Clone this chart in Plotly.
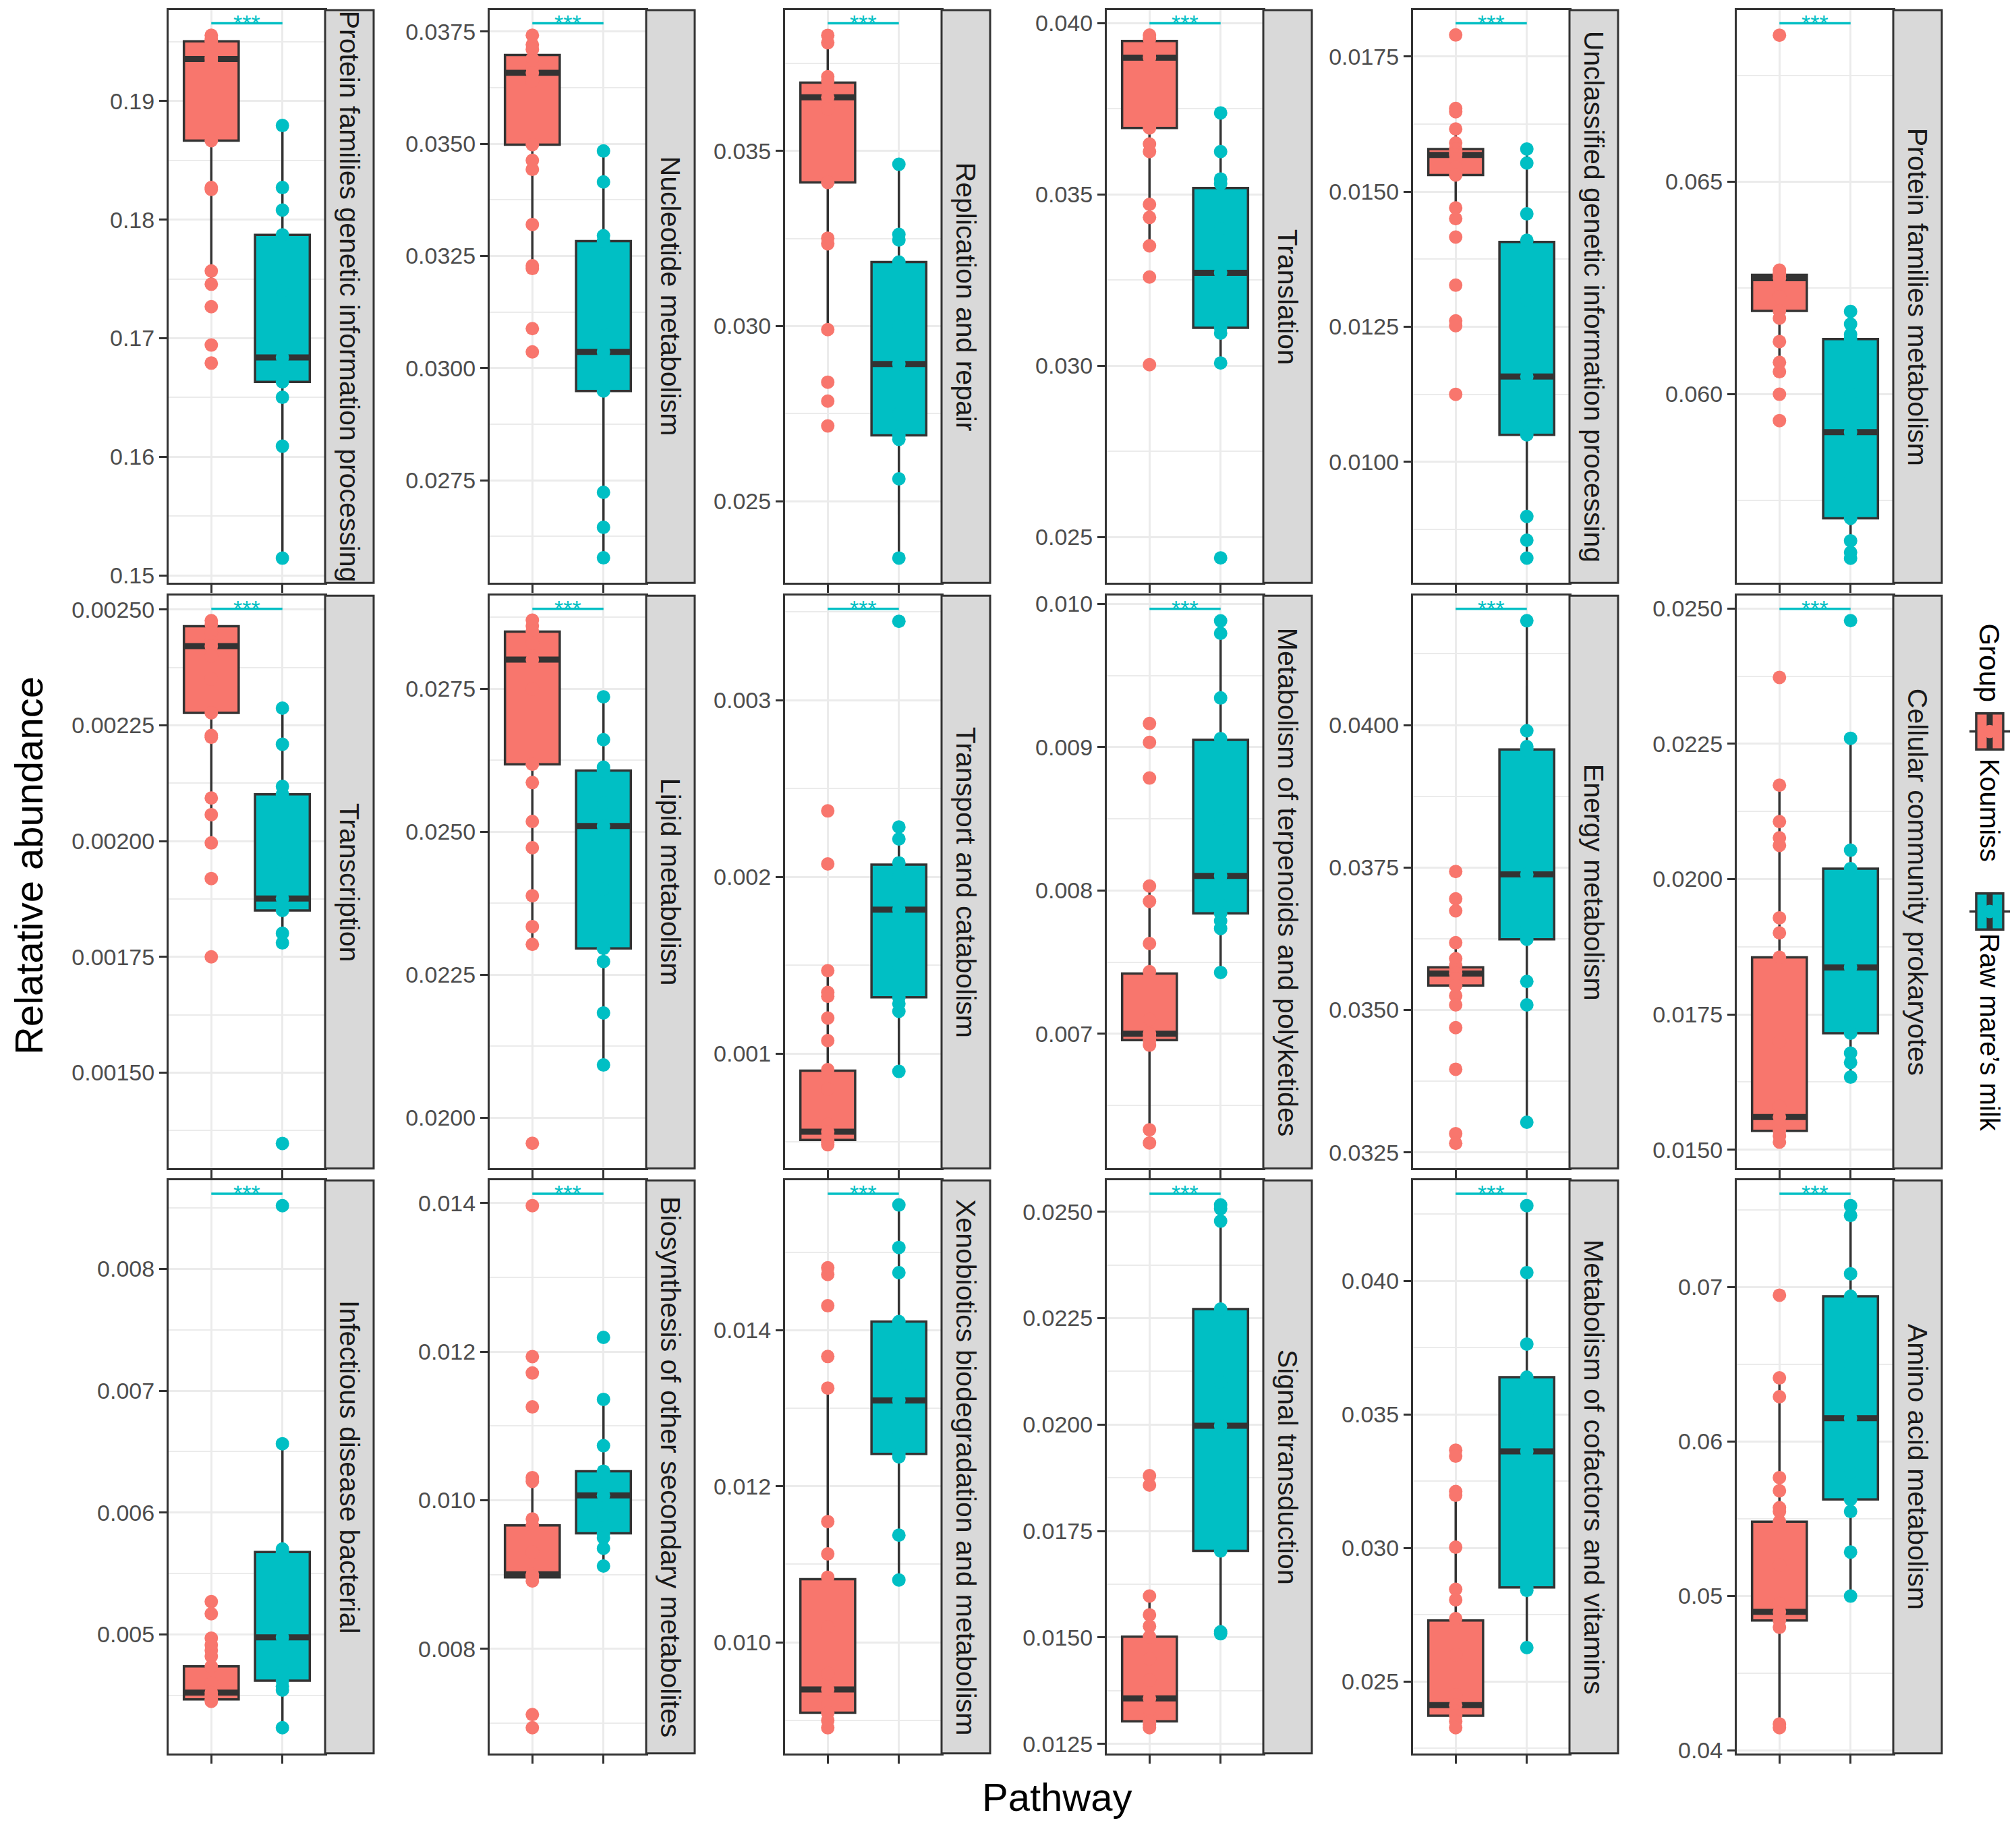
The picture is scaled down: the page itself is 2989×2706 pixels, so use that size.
import plotly.graph_objects as go

PAGE_W, PAGE_H = 2989, 2706
BODY_MARGIN = 8  # default html body margin; figure sized so the page fits exactly
W, H = PAGE_W - 2 * BODY_MARGIN, PAGE_H - 2 * BODY_MARGIN
FONT = "Liberation Sans, Arial, Helvetica, sans-serif"
KOUMISS_COLOR = "#F8766D"
RAW_COLOR = "#00BFC4"
DARK = "#333333"
GRID = "#EBEBEB"

# ---------------- data ----------------
pathways = [
    "Protein families genetic information processing", "Nucleotide metabolism",
    "Replication and repair", "Translation",
    "Unclassified genetic information processing", "Protein families metabolism",
    "Transcription", "Lipid metabolism", "Transport and catabolism",
    "Metabolism of terpenoids and polyketides", "Energy metabolism",
    "Cellular community prokaryotes", "Infectious disease bacterial",
    "Biosynthesis of other secondary metabolites",
    "Xenobiotics biodegradation and metabolism", "Signal transduction",
    "Metabolism of cofactors and vitamins", "Amino acid metabolism",
]
groups = ["Koumiss", "Raw mare\u2019s milk"]
significance = ["***"] * 18

# box statistics
koumiss_q1 = [0.18667, 0.03498, 0.03410, 0.03694, 0.01531, 0.06196, 0.002277, 0.02618, 0.000512,
              0.006955, 0.03543, 0.015347, 0.004467, 0.008962, 0.009099, 0.013030, 0.023718, 0.048402]
koumiss_median = [0.19355, 0.03658, 0.03653, 0.03899, 0.01568, 0.06273, 0.002421, 0.02801, 0.000559,
                  0.007000, 0.03564, 0.015604, 0.004522, 0.009003, 0.009398, 0.013569, 0.024112, 0.048962]
koumiss_q3 = [0.19504, 0.03698, 0.03695, 0.03948, 0.01579, 0.06281, 0.002464, 0.02850, 0.000904,
              0.007420, 0.03575, 0.018556, 0.004738, 0.009661, 0.010810, 0.015018, 0.027281, 0.054806]
koumiss_lower = [0.17456, 0.03222, 0.02990, 0.03350, 0.01470, 0.06075, 0.001996, 0.02303, 0.000485,
                 0.006330, 0.03509, 0.015140, 0.004451, 0.008912, 0.008906, 0.012880, 0.023267, 0.041462]
koumiss_upper = [0.19555, 0.03742, 0.03830, 0.03965, 0.01616, 0.06292, 0.002476, 0.02870, 0.001470,
                 0.008031, 0.03618, 0.021736, 0.004970, 0.010304, 0.013258, 0.015972, 0.031972, 0.064107]

raw_q1 = [0.16632, 0.02949, 0.02688, 0.03111, 0.01050, 0.05708, 0.001850, 0.02296, 0.001319,
          0.007840, 0.03624, 0.017153, 0.004621, 0.009555, 0.012415, 0.017032, 0.028521, 0.056242]
raw_median = [0.16838, 0.03036, 0.02892, 0.03271, 0.01158, 0.05911, 0.001876, 0.02510, 0.001815,
              0.008102, 0.03738, 0.018368, 0.004976, 0.010066, 0.013099, 0.019973, 0.033619, 0.061502]
raw_q3 = [0.17872, 0.03283, 0.03183, 0.03519, 0.01407, 0.06130, 0.002101, 0.02607, 0.002070,
          0.009052, 0.03957, 0.020195, 0.005676, 0.010390, 0.014111, 0.022712, 0.036394, 0.069391]
raw_lower = [0.15146, 0.02577, 0.02338, 0.03008, 0.00822, 0.05614, 0.001780, 0.02092, 0.000900,
             0.007428, 0.03303, 0.016341, 0.004235, 0.009114, 0.010800, 0.015088, 0.026267, 0.049984]
raw_upper = [0.18794, 0.03484, 0.03462, 0.03738, 0.01579, 0.06195, 0.002287, 0.02736, 0.002283,
             0.009882, 0.04183, 0.022604, 0.006565, 0.011357, 0.015605, 0.025159, 0.042817, 0.075260]

# individual samples
koumiss_points = [
    [0.19555, 0.19523, 0.19504, 0.19450, 0.19400, 0.19370, 0.19355, 0.19330, 0.18667, 0.18271, 0.18255, 0.17567, 0.17456, 0.17266, 0.16943, 0.16791],
    [0.03742, 0.03721, 0.03710, 0.03690, 0.03670, 0.03658, 0.03640, 0.03498, 0.03463, 0.03443, 0.03320, 0.03228, 0.03222, 0.03088, 0.03036],
    [0.03830, 0.03809, 0.03712, 0.03700, 0.03680, 0.03653, 0.03620, 0.03410, 0.03251, 0.03235, 0.02990, 0.02840, 0.02786, 0.02715],
    [0.03965, 0.03954, 0.03930, 0.03910, 0.03899, 0.03880, 0.03694, 0.03647, 0.03625, 0.03471, 0.03433, 0.03350, 0.03259, 0.03003],
    [0.01790, 0.01654, 0.01648, 0.01616, 0.01590, 0.01579, 0.01572, 0.01568, 0.01560, 0.01545, 0.01531, 0.01470, 0.01450, 0.01416, 0.01327, 0.01261, 0.01252, 0.01125],
    [0.06845, 0.06292, 0.06285, 0.06281, 0.06273, 0.06260, 0.06230, 0.06196, 0.06179, 0.06124, 0.06075, 0.06053, 0.06000, 0.05938],
    [0.002476, 0.002468, 0.002450, 0.002430, 0.002421, 0.002400, 0.002350, 0.002277, 0.002228, 0.002224, 0.002093, 0.002057, 0.001996, 0.001919, 0.001750],
    [0.02870, 0.02860, 0.02850, 0.02830, 0.02801, 0.02750, 0.02618, 0.02586, 0.02518, 0.02472, 0.02388, 0.02334, 0.02303, 0.01955],
    [0.002374, 0.002074, 0.001470, 0.001347, 0.001325, 0.001202, 0.001074, 0.000910, 0.000800, 0.000600, 0.000559, 0.000530, 0.000512, 0.000500, 0.000485],
    [0.009165, 0.009034, 0.008785, 0.008031, 0.007924, 0.007630, 0.007433, 0.007100, 0.007000, 0.006980, 0.006955, 0.006921, 0.006330, 0.006238],
    [0.03743, 0.03695, 0.03674, 0.03618, 0.03590, 0.03578, 0.03570, 0.03564, 0.03555, 0.03543, 0.03525, 0.03509, 0.03469, 0.03396, 0.03283, 0.03266],
    [0.023729, 0.021736, 0.021063, 0.020764, 0.020625, 0.019285, 0.019007, 0.018556, 0.017000, 0.015800, 0.015604, 0.015450, 0.015347, 0.015250, 0.015140],
    [0.005269, 0.005170, 0.004970, 0.004914, 0.004870, 0.004821, 0.004738, 0.004600, 0.004522, 0.004500, 0.004467, 0.004451],
    [0.013965, 0.011934, 0.011712, 0.011256, 0.010304, 0.010253, 0.009747, 0.009661, 0.009300, 0.009003, 0.008980, 0.008962, 0.008912, 0.007114, 0.006937],
    [0.014800, 0.014713, 0.014313, 0.013663, 0.013258, 0.011547, 0.011133, 0.010834, 0.010200, 0.009600, 0.009398, 0.009200, 0.009099, 0.009000, 0.008906],
    [0.018799, 0.018578, 0.015972, 0.015530, 0.015265, 0.015018, 0.014500, 0.014000, 0.013569, 0.013300, 0.013030, 0.012950, 0.012880],
    [0.033662, 0.033437, 0.032113, 0.031972, 0.030028, 0.028450, 0.028056, 0.027352, 0.026000, 0.024500, 0.024112, 0.023900, 0.023718, 0.023500, 0.023267],
    [0.069464, 0.064107, 0.062890, 0.057655, 0.056803, 0.055707, 0.055463, 0.054806, 0.052000, 0.049500, 0.048962, 0.048600, 0.048402, 0.047963, 0.041705, 0.041462],
]
raw_points = [
    [0.18794, 0.18271, 0.18081, 0.17872, 0.17400, 0.16838, 0.16632, 0.16502, 0.16090, 0.15146],
    [0.03484, 0.03415, 0.03295, 0.03283, 0.03100, 0.03036, 0.02960, 0.02949, 0.02723, 0.02645, 0.02577],
    [0.03462, 0.03262, 0.03246, 0.03183, 0.03000, 0.02892, 0.02750, 0.02688, 0.02677, 0.02564, 0.02338],
    [0.03738, 0.03625, 0.03545, 0.03531, 0.03400, 0.03271, 0.03150, 0.03111, 0.03095, 0.03008, 0.02439],
    [0.01579, 0.01553, 0.01459, 0.01410, 0.01300, 0.01158, 0.01080, 0.01050, 0.00899, 0.00855, 0.00822],
    [0.06195, 0.06165, 0.06141, 0.06130, 0.06000, 0.05911, 0.05800, 0.05708, 0.05655, 0.05628, 0.05614],
    [0.002287, 0.002209, 0.002118, 0.002101, 0.001950, 0.001876, 0.001860, 0.001850, 0.001801, 0.001780, 0.001347],
    [0.02736, 0.02661, 0.02613, 0.02607, 0.02550, 0.02510, 0.02400, 0.02296, 0.02273, 0.02183, 0.02092],
    [0.003447, 0.002283, 0.002215, 0.002080, 0.002000, 0.001815, 0.001500, 0.001319, 0.001283, 0.001240, 0.000900],
    [0.009882, 0.009795, 0.009344, 0.009060, 0.008500, 0.008102, 0.007900, 0.007840, 0.007787, 0.007735, 0.007428],
    [0.04183, 0.03990, 0.03962, 0.03957, 0.03800, 0.03738, 0.03650, 0.03624, 0.03550, 0.03509, 0.03303],
    [0.024778, 0.022604, 0.020535, 0.020195, 0.019000, 0.018368, 0.017500, 0.017153, 0.016785, 0.016611, 0.016341],
    [0.008518, 0.006565, 0.005701, 0.005676, 0.005300, 0.004976, 0.004700, 0.004621, 0.004575, 0.004544, 0.004235],
    [0.012192, 0.011357, 0.010734, 0.010390, 0.010200, 0.010066, 0.009800, 0.009555, 0.009494, 0.009352, 0.009114],
    [0.015605, 0.015060, 0.014737, 0.014111, 0.013500, 0.013099, 0.012700, 0.012415, 0.012376, 0.011374, 0.010800],
    [0.025159, 0.025071, 0.024779, 0.022712, 0.021000, 0.019973, 0.018500, 0.017032, 0.015132, 0.015088],
    [0.042817, 0.040310, 0.037634, 0.036394, 0.035000, 0.033619, 0.031000, 0.028521, 0.028408, 0.026267],
    [0.075260, 0.074626, 0.070852, 0.069391, 0.065000, 0.061502, 0.058000, 0.056242, 0.055463, 0.052833, 0.049984],
]

# axis scales (free per panel)
y_ranges = [
    [0.14937, 0.19767], [0.02521, 0.03798], [0.02267, 0.03902], [0.02366, 0.04038],
    [0.00776, 0.01836], [0.05556, 0.06904], [0.001293, 0.00253], [0.01911, 0.02913],
    [0.000351, 0.003592], [0.00606, 0.010058], [0.03222, 0.04227], [0.014653, 0.02524],
    [0.004025, 0.008725], [0.006593, 0.014304], [0.008579, 0.015918], [0.012279, 0.025733],
    [0.02231, 0.04376], [0.039806, 0.07689],
]
tick_steps = [0.01, 0.0025, 0.005, 0.005, 0.0025, 0.005, 0.00025, 0.0025, 0.001,
              0.001, 0.0025, 0.0025, 0.001, 0.002, 0.002, 0.0025, 0.005, 0.01]
tick_decimals = [2, 4, 3, 3, 4, 3, 5, 4, 3, 3, 4, 4, 3, 3, 3, 4, 3, 2]

# ---------------- layout geometry (pixels on the page) ----------------
col_left_px = [250, 726, 1164, 1641, 2095, 2575]
row_top_px = [8, 883, 1757]
PLOT_W, STRIP_W, PLOT_H = 232, 72, 856
BOX_W = 0.77
SIG_Y = 0.977


def px_x(v):
    return (v - BODY_MARGIN) / W


def px_y(v):
    return 1 - (v - BODY_MARGIN) / H


fig = go.Figure()
layout = dict(
    width=W, height=H, margin=dict(l=0, r=0, t=0, b=0),
    paper_bgcolor="white", plot_bgcolor="white",
    showlegend=False, hovermode=False,
    font=dict(family=FONT, color="black"),
)
shapes, annotations = [], []

for i, name in enumerate(pathways):
    r, c = divmod(i, 6)
    x0 = col_left_px[c]
    x1 = x0 + PLOT_W
    yt = row_top_px[r]
    yb = yt + PLOT_H
    sfx = "" if i == 0 else str(i + 1)
    xa, ya = "x" + sfx, "y" + sfx

    layout["xaxis" + sfx] = dict(
        domain=[px_x(x0), px_x(x1)], anchor=ya, range=[0.4, 2.6],
        tickmode="array", tickvals=[1, 2], ticktext=["", ""],
        ticks="outside", ticklen=12, tickwidth=3, tickcolor=DARK,
        showgrid=True, gridcolor=GRID, gridwidth=3, zeroline=False,
        showline=True, mirror=True, linecolor=DARK, linewidth=3, fixedrange=True,
    )
    step = tick_steps[i]
    layout["yaxis" + sfx] = dict(
        domain=[max(0, px_y(yb)), min(1, px_y(yt))], anchor=xa, range=y_ranges[i],
        tickmode="linear", tick0=0, dtick=step, tickformat=".%df" % tick_decimals[i],
        ticks="outside", ticklen=11, tickwidth=3, tickcolor=DARK,
        tickfont=dict(size=34, color="#4D4D4D", family=FONT),
        showgrid=True, gridcolor=GRID, gridwidth=3,
        minor=dict(tick0=0, dtick=step / 2, showgrid=True, gridcolor=GRID, gridwidth=1.5, ticks=""),
        zeroline=False, showline=True, mirror=True, linecolor=DARK, linewidth=3, fixedrange=True,
    )

    stats = [
        (1, KOUMISS_COLOR, koumiss_q1, koumiss_median, koumiss_q3, koumiss_lower, koumiss_upper, koumiss_points),
        (2, RAW_COLOR, raw_q1, raw_median, raw_q3, raw_lower, raw_upper, raw_points),
    ]
    for xpos, col, q1, med, q3, lo, hi, pts in stats:
        fig.add_trace(go.Box(
            x=[xpos], q1=[q1[i]], median=[med[i]], q3=[q3[i]],
            lowerfence=[lo[i]], upperfence=[hi[i]], width=BOX_W,
            fillcolor=col, line=dict(color=DARK, width=3.5), whiskerwidth=0,
            boxpoints=False, xaxis=xa, yaxis=ya, hoverinfo="skip",
        ))
        fig.add_trace(go.Scatter(
            x=[xpos - BOX_W / 2, xpos + BOX_W / 2], y=[med[i], med[i]], mode="lines",
            line=dict(color=DARK, width=9), xaxis=xa, yaxis=ya, hoverinfo="skip",
        ))
        fig.add_trace(go.Scatter(
            x=[xpos] * len(pts[i]), y=pts[i], mode="markers",
            marker=dict(color=col, size=20, line=dict(width=0)),
            xaxis=xa, yaxis=ya, hoverinfo="skip", cliponaxis=False,
        ))

    # significance bar
    shapes.append(dict(type="line", xref=xa, yref=ya + " domain", x0=1, x1=2,
                       y0=SIG_Y, y1=SIG_Y, line=dict(color=RAW_COLOR, width=3.5), layer="above"))
    annotations.append(dict(text=significance[i], xref=xa, yref=ya + " domain", x=1.5, y=SIG_Y,
                            xanchor="center", yanchor="bottom", yshift=-20, showarrow=False,
                            font=dict(size=34, color=RAW_COLOR, family=FONT)))

    # facet strip on the right
    shapes.append(dict(type="rect", xref="paper", yref="paper",
                       x0=px_x(x1), x1=px_x(x1 + STRIP_W), y0=px_y(yb), y1=min(1, px_y(yt)),
                       fillcolor="#D9D9D9", line=dict(color=DARK, width=3), layer="above"))
    annotations.append(dict(text=name, xref="paper", yref="paper",
                            x=px_x(x1 + STRIP_W / 2), y=px_y((yt + yb) / 2),
                            xanchor="center", yanchor="middle", textangle=90, showarrow=False,
                            font=dict(size=41, color="#1A1A1A", family=FONT)))

# axis titles
annotations.append(dict(text="Relatative abundance", xref="paper", yref="paper",
                        x=px_x(42), y=px_y(1287), textangle=-90, showarrow=False,
                        xanchor="center", yanchor="middle", font=dict(size=58, color="black", family=FONT)))
annotations.append(dict(text="Pathway", xref="paper", yref="paper",
                        x=px_x(1567), y=px_y(2678), showarrow=False,
                        xanchor="center", yanchor="middle", font=dict(size=58, color="black", family=FONT)))

# legend (rotated, drawn manually)
LEG_X = 2950
annotations.append(dict(text="Group", xref="paper", yref="paper", x=px_x(LEG_X), y=px_y(983),
                        textangle=90, showarrow=False, xanchor="center", yanchor="middle",
                        font=dict(size=42, color="black", family=FONT)))
legend_items = [(groups[0], KOUMISS_COLOR, 1086, 1203), (groups[1], RAW_COLOR, 1355, 1536)]
for label, col, kc, tc in legend_items:
    shapes.append(dict(type="line", xref="paper", yref="paper", x0=px_x(LEG_X - 30), x1=px_x(LEG_X + 30),
                       y0=px_y(kc), y1=px_y(kc), line=dict(color=DARK, width=3.5)))
    shapes.append(dict(type="rect", xref="paper", yref="paper", x0=px_x(LEG_X - 20), x1=px_x(LEG_X + 20),
                       y0=px_y(kc + 27), y1=px_y(kc - 27), fillcolor=col, line=dict(color=DARK, width=3.5)))
    shapes.append(dict(type="line", xref="paper", yref="paper", x0=px_x(LEG_X), x1=px_x(LEG_X),
                       y0=px_y(kc + 27), y1=px_y(kc - 27), line=dict(color=DARK, width=9)))
    shapes.append(dict(type="circle", xref="paper", yref="paper", x0=px_x(LEG_X - 10), x1=px_x(LEG_X + 10),
                       y0=px_y(kc + 10), y1=px_y(kc - 10), fillcolor=col, line=dict(width=0)))
    annotations.append(dict(text=label, xref="paper", yref="paper", x=px_x(LEG_X), y=px_y(tc),
                            textangle=90, showarrow=False, xanchor="center", yanchor="middle",
                            font=dict(size=40, color="black", family=FONT)))

layout["shapes"] = shapes
layout["annotations"] = annotations
fig.update_layout(**layout)
fig.write_html("out.html")
